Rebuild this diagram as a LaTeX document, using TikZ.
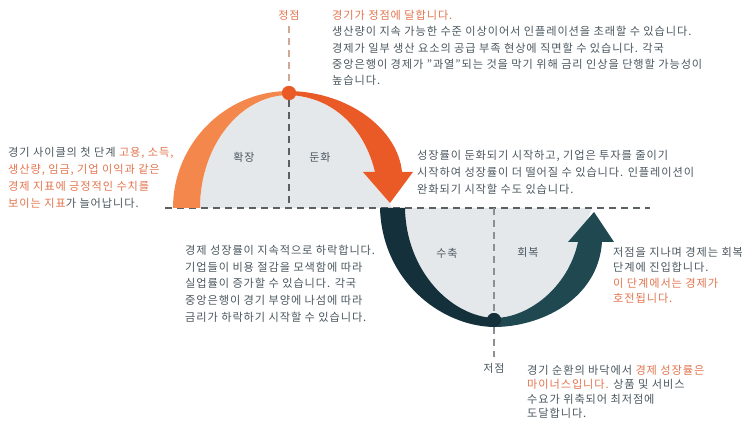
\documentclass[tikz,border=0pt]{standalone}
\usepackage{fontspec}
\setmainfont[LetterSpace=8]{Noto Sans CJK KR}
\definecolor{txt}{HTML}{4A575E}
\definecolor{hl}{HTML}{E2744E}
\definecolor{orL}{HTML}{F4884C}
\definecolor{orD}{HTML}{EA5A27}
\definecolor{tlD}{HTML}{14303A}
\definecolor{tlM}{HTML}{1F4850}
\definecolor{domec}{HTML}{E5E8EB}
\definecolor{dashc}{HTML}{5A5F62}
\definecolor{dashl}{HTML}{CFA996}
\definecolor{dashg}{HTML}{8A9094}
\begin{document}
\begin{tikzpicture}[x=1pt,y=-1pt,
  body/.style={text=txt, align=left, anchor=north west, inner sep=0pt},
  lbl/.style={font=\fontsize{11}{13}\selectfont, text=txt, inner sep=0pt},
  guide/.style={line width=1.3pt, dash pattern=on 7pt off 5pt},
  dot/.style={circle, inner sep=0pt, minimum size=14pt}]
\useasboundingbox (0,0) rectangle (742,422);
% gray fills
\fill[domec] (200,208) .. controls (200,146) and (240,95) .. (289,95)
  .. controls (335,97) and (365,130) .. (375,172) -- (392,208) -- cycle;
\fill[domec] (405,208) .. controls (406,270) and (450,316) .. (494,318)
  .. controls (530,316) and (570,290) .. (578,242) -- (592,208) -- cycle;
% nodes
\node[dot, fill=orD] (peak) at (289,93) {};
\node[dot, fill=tlD] (bottom) at (494,320) {};
\node[lbl, text=hl] (peakLbl) at (289,15) {정점};
\node[lbl] (botLbl) at (494,368) {저점};
\coordinate (peakBase) at (289,208);
\coordinate (botBase) at (494,208);
\coordinate (blL) at (165,208);
\coordinate (blR) at (650,208);
% guides
\draw[guide, dashc] (blL) -- (blR);
\draw[guide, dashl, shorten <=6pt] (peakLbl.south) -- (peak.north);
\draw[guide, dashc] (peak.south) -- (peakBase);
\draw[guide, dashg] (botBase) -- (bottom.north);
\draw[guide, dashg, shorten >=6pt] (bottom.south) -- (botLbl.north);
% top arrows
\fill[orL] (173,208) .. controls (173,144) and (225,91) .. (289,91)
  -- (289,95) .. controls (240,95) and (200,146) .. (200,208) -- cycle;
\fill[orD] (289,91) .. controls (350,92) and (398,130) .. (402,172)
  -- (413,172) -- (390,203) -- (363,172) -- (375,172)
  .. controls (365,130) and (335,97) .. (289,95) -- cycle;
% bottom arrows
\fill[tlD] (380,208) .. controls (382,280) and (440,326) .. (494,327)
  -- (494,318) .. controls (450,316) and (406,270) .. (405,208) -- cycle;
\fill[tlM] (494,327) .. controls (540,327) and (598,300) .. (602,242)
  -- (614,242) -- (594,212) -- (568,242) -- (578,242)
  .. controls (568,288) and (528,318) .. (494,318) -- cycle;
\node[dot, fill=orD] at (peak) {};
\node[dot, fill=tlD] at (bottom) {};
% phase labels
\node[lbl] (l1) at (244,157) {확장};
\node[lbl] (l2) at (320,157) {둔화};
\node[lbl] (l3) at (447,253) {수축};
\node[lbl] (l4) at (528,252) {회복};
% text blocks
\node[body, font=\fontsize{11.2}{16.3}\selectfont] (t1) at (332,10)
 {\textcolor{hl}{경기가 정점에 달합니다.}\\
  생산량이 지속 가능한 수준 이상이어서 인플레이션을 초래할 수 있습니다.\\
  경제가 일부 생산 요소의 공급 부족 현상에 직면할 수 있습니다. 각국\\
  중앙은행이 경제가 "과열"되는 것을 막기 위해 금리 인상을 단행할 가능성이\\
  높습니다.};
\node[body, font=\fontsize{11.2}{17}\selectfont] (t2) at (8,147)
 {경기 사이클의 첫 단계 \textcolor{hl}{고용, 소득,}\\
  \textcolor{hl}{생산량, 임금, 기업 이익과 같은}\\
  \textcolor{hl}{경제 지표에 긍정적인 수치를}\\
  \textcolor{hl}{보이는 지표}가 늘어납니다.};
\node[body, font=\fontsize{11.2}{17}\selectfont] (t3) at (417,150)
 {성장률이 둔화되기 시작하고, 기업은 투자를 줄이기\\
  시작하여 성장률이 더 떨어질 수 있습니다. 인플레이션이\\
  완화되기 시작할 수도 있습니다.};
\node[body, font=\fontsize{11.2}{16.7}\selectfont] (t4) at (185,245)
 {경제 성장률이 지속적으로 하락합니다.\\
  기업들이 비용 절감을 모색함에 따라\\
  실업률이 증가할 수 있습니다. 각국\\
  중앙은행이 경기 부양에 나섬에 따라\\
  금리가 하락하기 시작할 수 있습니다.};
\node[body, font=\fontsize{11.2}{15.5}\selectfont] (t5) at (613,247)
 {저점을 지나며 경제는 회복\\
  단계에 진입합니다.\\
  \textcolor{hl}{이 단계에서는 경제가}\\
  \textcolor{hl}{호전됩니다.}};
\node[body, font=\fontsize{11.2}{14.3}\selectfont] (t6) at (527,365)
 {경기 순환의 바닥에서 \textcolor{hl}{경제 성장률은}\\
  \textcolor{hl}{마이너스입니다.} 상품 및 서비스\\
  수요가 위축되어 최저점에\\
  도달합니다.};
\end{tikzpicture}
\end{document}
